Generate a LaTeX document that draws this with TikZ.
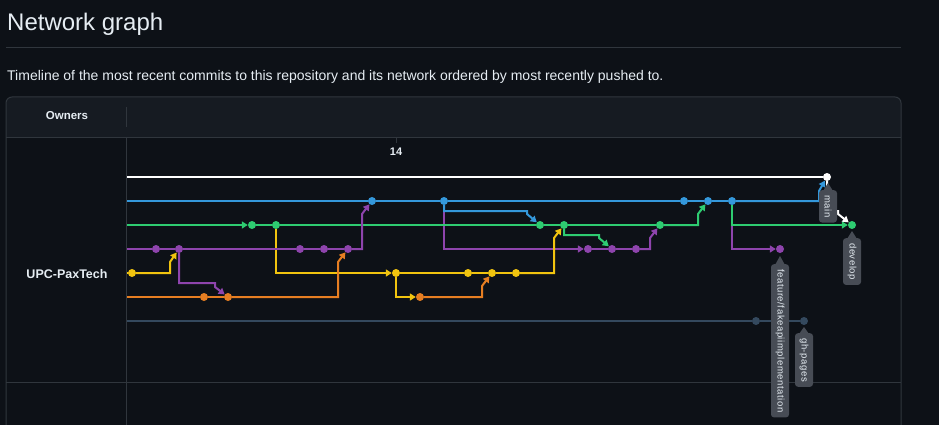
\documentclass[tikz,border=0pt]{standalone}
\usepackage{fontspec}
\setmainfont{Liberation Sans}
\usetikzlibrary{arrows.meta}

\definecolor{pagebg}{HTML}{0D1117}
\definecolor{headbg}{HTML}{161B22}
\definecolor{rulegray}{HTML}{30363D}
\definecolor{fg}{HTML}{E6EDF3}
\definecolor{cwhite}{HTML}{FFFFFF}
\definecolor{cblue}{HTML}{3498DB}
\definecolor{cgreen}{HTML}{2ECC71}
\definecolor{cpurple}{HTML}{8E44AD}
\definecolor{cyellow}{HTML}{F1C40F}
\definecolor{corange}{HTML}{E67E22}
\definecolor{cslate}{HTML}{34495E}
\definecolor{tagbg}{HTML}{474C55}

\begin{document}
\begin{tikzpicture}[
	x=1pt, y=-1pt,
	commit/.style={ circle, fill, inner sep=0pt, minimum size=8pt },
	branch/.style={ line width=2pt },
	merge/.style={ line width=2pt, -{Triangle[length=6pt,width=7pt]} },
	frame/.style={ rulegray, line width=1pt },
	tag/.style={ rotate=-90, anchor=west, fill=tagbg, text=fg, rounded corners=3pt, inner xsep=5pt, inner ysep=0pt, minimum height=18pt, font=\fontsize{9.5}{10}\selectfont\addfontfeature{LetterSpace=6} }
]

\fill[pagebg] (0,0) rectangle (939,425);
\useasboundingbox (0,0) rectangle (939,425);

\node at (7,31) (title) [anchor=base west, inner sep=0pt, text=fg, font=\fontsize{24}{28}\selectfont] {Network graph};
\draw[frame] (6,48) -- (901,48);
\node at (7,81) (lead) [anchor=base west, inner sep=0pt, text=fg, font=\fontsize{14}{16}\selectfont] {Timeline of the most recent commits to this repository and its network ordered by most recently pushed to.};

\fill[headbg] (6,137) [rounded corners=6pt] -- (6,97) -- (901,97) [sharp corners] -- (901,137) -- cycle;
\draw[frame] (6,425) [rounded corners=6pt] -- (6,97) -- (901,97) [sharp corners] -- (901,425);
\draw[frame] (6,137) -- (901,137);
\draw[frame] (6,382) -- (901,382);
\draw[frame] (126,107) -- (126,127);
\draw[frame] (126,137) -- (126,425);
\draw[frame] (396,137) -- (396,143);

\node at (67,120) (owners) [anchor=base, text=fg, font=\bfseries\fontsize{11.5}{13}\selectfont] {Owners};
\node at (67,278) (owner) [anchor=base, text=fg, font=\bfseries\fontsize{12.5}{14}\selectfont] {UPC-PaxTech};
\node at (396,155) (week) [anchor=base, text=fg, font=\bfseries\fontsize{11}{13}\selectfont] {14};

\coordinate (w0) at (127,177);
\coordinate (b0) at (127,201);
\coordinate (g0) at (127,225);
\coordinate (p0) at (127,249);
\coordinate (y0) at (127,273);
\coordinate (o0) at (127,297);
\coordinate (s0) at (127,321);

\node at (827,177) (w1) [commit,cwhite] {};

\node at (372,201) (b1) [commit,cblue] {};
\node at (444,201) (b2) [commit,cblue] {};
\node at (684,201) (b3) [commit,cblue] {};
\node at (708,201) (b4) [commit,cblue] {};
\node at (732,201) (b5) [commit,cblue] {};

\node at (252,225) (g1) [commit,cgreen] {};
\node at (276,225) (g2) [commit,cgreen] {};
\node at (540,225) (g3) [commit,cgreen] {};
\node at (564,225) (g4) [commit,cgreen] {};
\node at (660,225) (g5) [commit,cgreen] {};
\node at (852,225) (g6) [commit,cgreen] {};

\node at (156,249) (p1) [commit,cpurple] {};
\node at (179,249) (p2) [commit,cpurple] {};
\node at (300,249) (p3) [commit,cpurple] {};
\node at (324,249) (p4) [commit,cpurple] {};
\node at (348,249) (p5) [commit,cpurple] {};
\node at (588,249) (p6) [commit,cpurple] {};
\node at (612,249) (p7) [commit,cpurple] {};
\node at (636,249) (p8) [commit,cpurple] {};
\node at (780,249) (p9) [commit,cpurple] {};

\node at (132,273) (y1) [commit,cyellow] {};
\node at (396,273) (y2) [commit,cyellow] {};
\node at (468,273) (y3) [commit,cyellow] {};
\node at (492,273) (y4) [commit,cyellow] {};
\node at (516,273) (y5) [commit,cyellow] {};

\node at (204,297) (o1) [commit,corange] {};
\node at (228,297) (o2) [commit,corange] {};
\node at (420,297) (o3) [commit,corange] {};

\node at (756,321) (s1) [commit,cslate] {};
\node at (804,321) (s2) [commit,cslate] {};

\draw[merge,cyellow] (g2) -- (276,273) -- (y2);
\draw[merge,cpurple] (b2) -- (444,249) -- (p6);
\draw[merge,cblue] (b2) -- (444,211) -- (527,211) -- (527,214) -- (g3);
\draw[merge,cpurple] (b5) -- (732,249) -- (p9);
\draw[merge,cgreen] (b5) -- (732,225) -- (g6);
\draw[merge,cpurple] (p2) -- (179,283) -- (215,283) -- (215,287) -- (o2);
\draw[merge,cyellow] (y2) -- (396,297) -- (o3);
\draw[merge,cgreen] (g4) -- (564,235) -- (599,235) -- (599,238) -- (p7);
\draw[merge,cwhite] (w1) -- (827,211) -- (838,211) -- (838,214) -- (g6);

\draw[branch,cwhite] (w0) -- (w1);
\draw[branch,cblue] (b0) -- (b1) -- (b2) -- (b3) -- (b4) -- (b5);
\draw[merge,cblue] (b5) -- (819,201) -- (819,191) -- (w1);
\draw[merge,cgreen] (g0) -- (g1);
\draw[branch,cgreen] (g1) -- (g2) -- (g3) -- (g4) -- (g5);
\draw[merge,cgreen] (g5) -- (698,225) -- (698,214) -- (b4);
\draw[branch,cpurple] (p0) -- (p1) -- (p2) -- (p3) -- (p4) -- (p5);
\draw[merge,cpurple] (p5) -- (362,249) -- (362,214) -- (b1);
\draw[branch,cpurple] (p6) -- (p7) -- (p8);
\draw[merge,cpurple] (p8) -- (650,249) -- (650,238) -- (g5);
\draw[branch,cyellow] (y0) -- (y1);
\draw[merge,cyellow] (y1) -- (170,273) -- (170,262) -- (p2);
\draw[branch,cyellow] (y2) -- (y3) -- (y4) -- (y5);
\draw[merge,cyellow] (y5) -- (554,273) -- (554,238) -- (g4);
\draw[branch,corange] (o0) -- (o1) -- (o2);
\draw[merge,corange] (o2) -- (338,297) -- (338,262) -- (p5);
\draw[merge,corange] (o3) -- (482,297) -- (482,286) -- (y4);
\draw[branch,cslate] (s0) -- (s1) -- (s2);

\fill[tagbg] (823,191) -- (828,183) -- (833,191) -- cycle;
\node at (828,190) (tagmain) [tag] {main};
\fill[tagbg] (847,239) -- (852,231) -- (857,239) -- cycle;
\node at (852,238) (tagdevelop) [tag] {develop};
\fill[tagbg] (775,265) -- (780,256) -- (785,265) -- cycle;
\node at (780,264) (tagfeature) [tag] {feature/fakeapiimplementation};
\fill[tagbg] (799,334) -- (804,327) -- (809,334) -- cycle;
\node at (804,333) (tagpages) [tag] {gh-pages};

\end{tikzpicture}
\end{document}
